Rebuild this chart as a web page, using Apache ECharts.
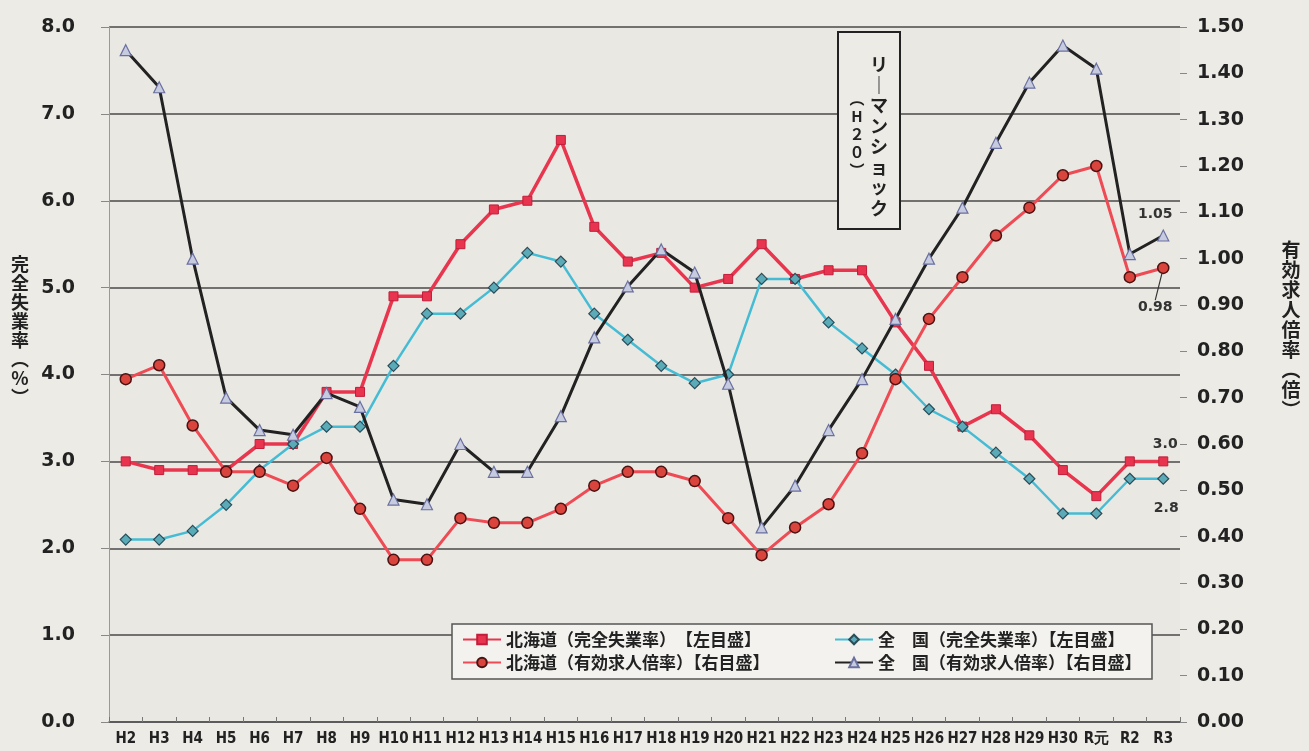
<!DOCTYPE html>
<html>
<head>
<meta charset="utf-8">
<script src="https://cdn.jsdelivr.net/npm/echarts@6/dist/echarts.min.js"></script>
<style>
html,body{margin:0;padding:0;background:#ecebe6;}
#chart{width:1309px;height:751px;}
</style>
</head>
<body>
<div id="chart"></div>
<script>
const categories = ['H2','H3','H4','H5','H6','H7','H8','H9','H10','H11','H12','H13','H14','H15','H16','H17','H18','H19','H20','H21','H22','H23','H24','H25','H26','H27','H28','H29','H30','R元','R2','R3'];
const hokkaidoUnemp = [3.0,2.9,2.9,2.9,3.2,3.2,3.8,3.8,4.9,4.9,5.5,5.9,6.0,6.7,5.7,5.3,5.4,5.0,5.1,5.5,5.1,5.2,5.2,4.6,4.1,3.4,3.6,3.3,2.9,2.6,3.0,3.0];
const nationalUnemp = [2.1,2.1,2.2,2.5,2.9,3.2,3.4,3.4,4.1,4.7,4.7,5.0,5.4,5.3,4.7,4.4,4.1,3.9,4.0,5.1,5.1,4.6,4.3,4.0,3.6,3.4,3.1,2.8,2.4,2.4,2.8,2.8];
const hokkaidoRatio = [0.74,0.77,0.64,0.54,0.54,0.51,0.57,0.46,0.35,0.35,0.44,0.43,0.43,0.46,0.51,0.54,0.54,0.52,0.44,0.36,0.42,0.47,0.58,0.74,0.87,0.96,1.05,1.11,1.18,1.20,0.96,0.98];
const nationalRatio = [1.45,1.37,1.00,0.70,0.63,0.62,0.71,0.68,0.48,0.47,0.60,0.54,0.54,0.66,0.83,0.94,1.02,0.97,0.73,0.42,0.51,0.63,0.74,0.87,1.00,1.11,1.25,1.38,1.46,1.41,1.01,1.05];
const leftTicks = {min:0, max:8, interval:1};
const rightTicks = {min:0, max:1.5, interval:0.1};
const seriesNames = ['北海道（完全失業率）　【左目盛】','全　国（完全失業率）【左目盛】','北海道（有効求人倍率）【右目盛】','全　国（有効求人倍率）【右目盛】'];

const last = categories.length - 1;
const labelFont = {fontFamily:'DejaVu Sans', fontWeight:'bold', fontSize:14, color:'#333'};
function withLastLabel(arr, digits, labelCfg){
  return arr.map((v,i)=> i===last ? {value:v, label:Object.assign({show:true, formatter:v.toFixed(digits)}, labelFont, labelCfg)} : v);
}

const chart = echarts.init(document.getElementById('chart'), null, {renderer:'canvas'});
const legendText = {fontFamily:'Noto Sans CJK JP', fontWeight:'bold', fontSize:17, lineHeight:17, color:'#222'};
const option = {
  backgroundColor:'#ecebe6',
  animation:false,
  grid:{left:109, right:129, top:27, bottom:29, show:true, backgroundColor:'#e9e8e3', borderWidth:0},
  legend:[
    {data:[seriesNames[0], seriesNames[2]], orient:'vertical', left:457, top:626, itemWidth:38, itemHeight:12, itemGap:6, textStyle:legendText},
    {data:[seriesNames[1], seriesNames[3]], orient:'vertical', left:829, top:626, itemWidth:38, itemHeight:12, itemGap:6, textStyle:legendText}
  ],
  xAxis:{
    type:'category', data:categories, boundaryGap:true,
    axisLine:{lineStyle:{color:'#555', width:1.5}},
    axisTick:{show:true, inside:true, length:5, lineStyle:{color:'#777'}},
    axisLabel:{interval:0, margin:10, fontFamily:'DejaVu Sans Condensed', fontWeight:'bold', fontSize:15, color:'#222'}
  },
  yAxis:[
    {type:'value', position:'left', min:leftTicks.min, max:leftTicks.max, interval:leftTicks.interval,
     axisLine:{show:true, lineStyle:{color:'#999', width:1}},
     axisTick:{show:true, length:8, lineStyle:{color:'#888'}},
     axisLabel:{margin:34, formatter:v=>v.toFixed(1), fontFamily:'DejaVu Sans', fontWeight:'bold', fontSize:19, color:'#222'},
     splitLine:{show:true, lineStyle:{color:'#4a4a4a', width:1.5}}},
    {type:'value', position:'right', min:rightTicks.min, max:rightTicks.max, interval:rightTicks.interval,
     axisLine:{show:false},
     axisTick:{show:true, length:7, lineStyle:{color:'#888'}},
     axisLabel:{margin:17, formatter:v=>v.toFixed(2), fontFamily:'DejaVu Sans', fontWeight:'bold', fontSize:19, color:'#222'},
     splitLine:{show:false}}
  ],
  series:[
    {name:seriesNames[0], type:'line', yAxisIndex:0,
     data:withLastLabel(hokkaidoUnemp, 1, {position:'top', offset:[2,0]}),
     lineStyle:{color:'#e8364f', width:3.5}, itemStyle:{color:'#e8344e', borderColor:'#c21d3a', borderWidth:1},
     symbol:'rect', symbolSize:9, z:3},
    {name:seriesNames[1], type:'line', yAxisIndex:0,
     data:withLastLabel(nationalUnemp, 1, {position:'bottom', offset:[3,12]}),
     lineStyle:{color:'#45bcd4', width:2.5}, itemStyle:{color:'#5aaab8', borderColor:'#2b4c58', borderWidth:1.2},
     symbol:'diamond', symbolSize:11, z:4},
    {name:seriesNames[2], type:'line', yAxisIndex:1,
     data:withLastLabel(hokkaidoRatio, 2, {position:'bottom', distance:4}),
     labelLayout:function(p){ return p.dataIndex===last ? {dx:-8, dy:22} : {}; },
     labelLine:{show:true, lineStyle:{color:'#333', width:1.2}},
     lineStyle:{color:'#ef4b55', width:3}, itemStyle:{color:'#d9443d', borderColor:'#4a1212', borderWidth:1.5},
     symbol:'circle', symbolSize:11, z:5},
    {name:seriesNames[3], type:'line', yAxisIndex:1,
     data:withLastLabel(nationalRatio, 2, {position:'top', offset:[-8,-3]}),
     lineStyle:{color:'#222222', width:3}, itemStyle:{color:'#c6cbe0', borderColor:'#6a70a0', borderWidth:1.2},
     symbol:'triangle', symbolSize:11, z:6}
  ],
  graphic:[
    {type:'rect', z:1, shape:{x:452, y:624, width:700, height:55}, style:{fill:'#f3f2ee', stroke:'#555', lineWidth:1.5}},
    {type:'rect', z:1, shape:{x:838, y:32, width:62, height:197}, style:{fill:'#ecebe6', stroke:'#222', lineWidth:2}},
    {type:'text', z:10, x:879, y:136, style:{text:'リ\n｜\nマ\nン\nシ\nョ\nッ\nク', fontFamily:'Noto Sans CJK JP', fontWeight:'bold', fontSize:18, lineHeight:20.5, fill:'#222', align:'center', verticalAlign:'middle'}},
    {type:'text', z:10, x:857, y:134, style:{text:'︵\nH\n２\n０\n︶', fontFamily:'Noto Sans CJK JP', fontWeight:'bold', fontSize:15, lineHeight:18, fill:'#222', align:'center', verticalAlign:'middle'}},
    {type:'text', z:10, x:20, y:331, style:{text:'完\n全\n失\n業\n率\n︵\n%\n︶', fontFamily:'Noto Sans CJK JP', fontWeight:'bold', fontSize:18, lineHeight:19, fill:'#222', align:'center', verticalAlign:'middle'}},
    {type:'text', z:10, x:1291, y:330, style:{text:'有\n効\n求\n人\n倍\n率\n︵\n倍\n︶', fontFamily:'Noto Sans CJK JP', fontWeight:'bold', fontSize:19, lineHeight:20, fill:'#222', align:'center', verticalAlign:'middle'}}
  ]
};
chart.setOption(option);
</script>
</body>
</html>
